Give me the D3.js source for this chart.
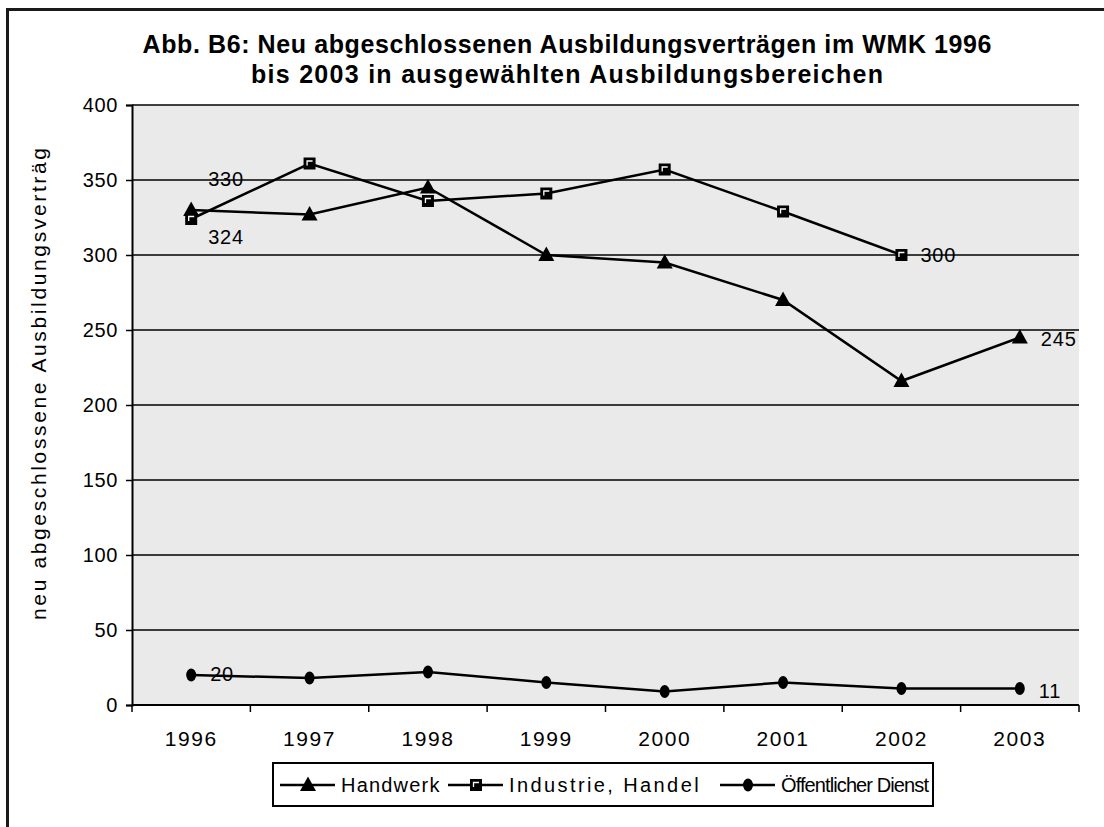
<!DOCTYPE html>
<html>
<head>
<meta charset="utf-8">
<script src="https://cdn.jsdelivr.net/npm/d3@7"></script>
<style>
    body { margin: 0; background: #fff; }
    svg text { font-family: "Liberation Sans", Arial, sans-serif; fill: #000; }
</style>
</head>
<body>
<svg id="chart" width="1104" height="827"></svg>
<script>
// Werte
const years = ["1996", "1997", "1998", "1999", "2000", "2001", "2002", "2003"];
const handwerk = [330, 327, 345, 300, 295, 270, 216, 245];
const industrieHandel = [324, 361, 336, 341, 357, 329, 300, null];
const oeffentlicherDienst = [20, 18, 22, 15, 9, 15, 11, 11];
const seriesNames = ["Handwerk", "Industrie, Handel", "Öffentlicher Dienst"];
const yTicks = [0, 50, 100, 150, 200, 250, 300, 350, 400];
const titleLines = ["Abb. B6: Neu abgeschlossenen Ausbildungsverträgen im WMK 1996",
                    "bis 2003 in ausgewählten Ausbildungsbereichen"];
const yTitle = "neu abgeschlossene Ausbildungsverträg";

// which points carry a value label (series index, year index, offset)
const pointLabels = [
    {s: 0, i: 0, dx: 17, dy: -31},
    {s: 1, i: 0, dx: 17, dy: 18},
    {s: 1, i: 6, dx: 19, dy: 0},
    {s: 0, i: 7, dx: 21, dy: 1},
    {s: 2, i: 0, dx: 19, dy: -1},
    {s: 2, i: 7, dx: 19, dy: 2}
];

const series = [handwerk, industrieHandel, oeffentlicherDienst];

const plot = {left: 132, right: 1079, top: 105, bottom: 705};

const svg = d3.select("#chart");

// outer frame, right/bottom edges lie outside the picture
svg.append("rect")
    .attr("x", 7.5).attr("y", 9.5)
    .attr("width", 1120).attr("height", 840)
    .attr("fill", "#fff")
    .attr("stroke", "#1a1a1a")
    .attr("stroke-width", 3);

const x = d3.scaleBand().domain(years).range([plot.left, plot.right]).padding(0);
const y = d3.scaleLinear().domain([0, 400]).range([plot.bottom, plot.top]);
const cx = d => x(d) + x.bandwidth() / 2;

// plot background
svg.append("rect")
    .attr("x", plot.left).attr("y", plot.top)
    .attr("width", plot.right - plot.left).attr("height", plot.bottom - plot.top)
    .attr("fill", "#eaeaea");

// gridlines
svg.append("g")
    .selectAll("line")
    .data(yTicks.filter(v => v > 0))
    .join("line")
    .attr("x1", plot.left).attr("x2", plot.right)
    .attr("y1", d => y(d)).attr("y2", d => y(d))
    .attr("stroke", "#000")
    .attr("stroke-width", 1.5);

// y axis
const yAxis = svg.append("g")
    .attr("transform", `translate(${plot.left},0)`)
    .call(d3.axisLeft(y).tickValues(yTicks).tickSize(6).tickPadding(8));
yAxis.select(".domain").attr("stroke", "#000").attr("stroke-width", 2);
yAxis.selectAll(".tick line").attr("stroke-width", 1.5);
yAxis.selectAll(".tick text")
    .attr("font-size", 20).attr("font-family", null)
    .attr("letter-spacing", 0.6);

// x axis: labels centred in the bands, ticks on the band edges
const xAxis = svg.append("g")
    .attr("transform", `translate(0,${plot.bottom})`)
    .call(d3.axisBottom(x).tickSize(0).tickPadding(26));
xAxis.select(".domain").remove();
xAxis.selectAll(".tick text")
    .attr("font-size", 21).attr("font-family", null)
    .attr("letter-spacing", 1.6);

svg.append("line")
    .attr("x1", plot.left).attr("x2", plot.right)
    .attr("y1", plot.bottom).attr("y2", plot.bottom)
    .attr("stroke", "#000").attr("stroke-width", 2);

svg.append("g")
    .selectAll("line")
    .data(years.concat(["end"]))
    .join("line")
    .attr("x1", (d, i) => plot.left + i * x.bandwidth())
    .attr("x2", (d, i) => plot.left + i * x.bandwidth())
    .attr("y1", plot.bottom).attr("y2", plot.bottom + 7)
    .attr("stroke", "#000").attr("stroke-width", 1.5);

// markers
function drawMarker(g, type) {
    if (type === 0) {
        g.append("path").attr("d", "M0,-8.5L8,6L-8,6Z").attr("fill", "#000");
    } else if (type === 1) {
        g.append("rect").attr("x", -6).attr("y", -6).attr("width", 12).attr("height", 12).attr("fill", "#000");
        g.append("path").attr("d", "M-2.5,2V-2.5H3").attr("fill", "none").attr("stroke", "#fff").attr("stroke-width", 1.3);
    } else {
        g.append("ellipse").attr("rx", 5).attr("ry", 6.5).attr("fill", "#000");
    }
}

const line = d3.line()
    .defined(d => d.v !== null)
    .x(d => cx(d.year))
    .y(d => y(d.v));

series.forEach((vals, s) => {
    const pts = vals.map((v, i) => ({year: years[i], v: v}));
    const g = svg.append("g").attr("class", "series-" + s);
    g.append("path")
        .datum(pts)
        .attr("d", line)
        .attr("fill", "none")
        .attr("stroke", "#000")
        .attr("stroke-width", 2.5);
    g.selectAll("g.marker")
        .data(pts.filter(d => d.v !== null))
        .join("g")
        .attr("class", "marker")
        .attr("transform", d => `translate(${cx(d.year)},${y(d.v)})`)
        .each(function () { drawMarker(d3.select(this), s); });
});

// value labels
svg.append("g")
    .selectAll("text")
    .data(pointLabels)
    .join("text")
    .attr("x", d => cx(years[d.i]) + d.dx)
    .attr("y", d => y(series[d.s][d.i]) + d.dy)
    .attr("dy", "0.35em")
    .attr("font-size", 20)
    .attr("letter-spacing", 0.8)
    .text(d => series[d.s][d.i]);

// title, stretched to the width of the original lines
const titleWidths = [849, 632];
svg.append("g")
    .selectAll("text")
    .data(titleLines)
    .join("text")
    .attr("x", 567)
    .attr("y", (d, i) => 53 + i * 30)
    .attr("text-anchor", "middle")
    .attr("font-size", 25)
    .attr("font-weight", "bold")
    .attr("textLength", (d, i) => titleWidths[i])
    .attr("lengthAdjust", "spacing")
    .text(d => d);

// y axis title
svg.append("text")
    .attr("transform", "translate(46,384) rotate(-90)")
    .attr("text-anchor", "middle")
    .attr("font-size", 21)
    .attr("textLength", 472)
    .attr("lengthAdjust", "spacing")
    .text(yTitle);

// legend
const legend = svg.append("g");
legend.append("rect")
    .attr("x", 273).attr("y", 763)
    .attr("width", 660).attr("height", 43)
    .attr("fill", "#fff")
    .attr("stroke", "#000")
    .attr("stroke-width", 2);

const legendX = [280, 448, 720];
const legendSpacing = [1.2, 2.4, -0.9];
const legendItems = legend.selectAll("g.item")
    .data(seriesNames)
    .join("g")
    .attr("class", "item")
    .attr("transform", (d, i) => `translate(${legendX[i]},785)`);
legendItems.append("line")
    .attr("x1", 0).attr("x2", 55)
    .attr("stroke", "#000").attr("stroke-width", 2.5);
legendItems.append("g")
    .attr("transform", "translate(28,0)")
    .each(function (d, i) { drawMarker(d3.select(this), i); });
legendItems.append("text")
    .attr("x", 61)
    .attr("dy", "0.35em")
    .attr("font-size", 20)
    .attr("letter-spacing", (d, i) => legendSpacing[i])
    .text(d => d);
</script>
</body>
</html>
